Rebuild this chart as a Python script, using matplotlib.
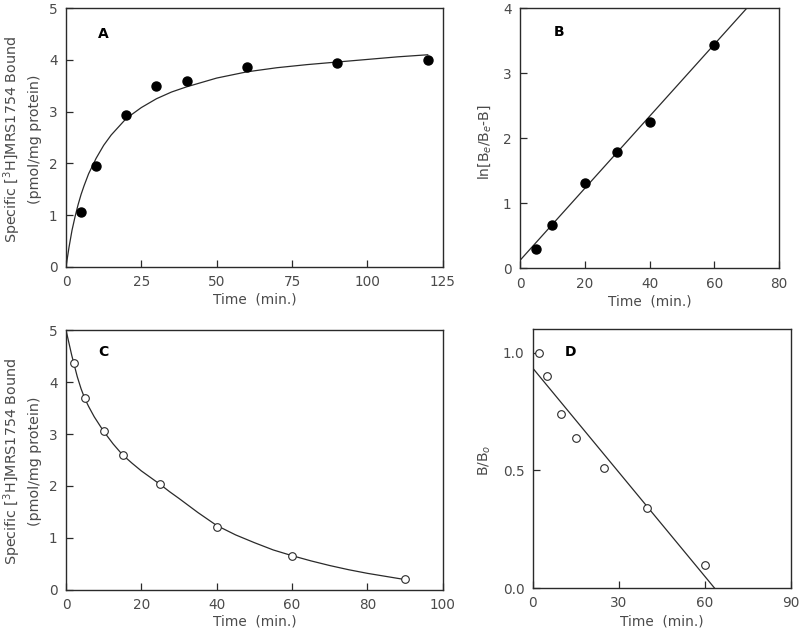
import numpy as np
import matplotlib
matplotlib.use("Agg")
import matplotlib.pyplot as plt

# panel A: association, specific binding
a_time = [5, 10, 20, 30, 40, 60, 90, 120]
a_bound = [1.07, 1.95, 2.94, 3.50, 3.60, 3.87, 3.95, 4.00]
a_fit_time = [0, 1, 2, 3, 4, 5, 6, 7.5, 10, 12.5, 15, 20, 25, 30, 35, 40,
              50, 60, 70, 80, 90, 100, 110, 120]
a_fit_bound = [0, 0.38, 0.71, 0.97, 1.20, 1.40, 1.57, 1.80, 2.10, 2.35, 2.55,
               2.87, 3.08, 3.25, 3.38, 3.48, 3.65, 3.77, 3.85, 3.91, 3.96,
               4.01, 4.06, 4.10]

# panel B: linearised association
b_time = [5, 10, 20, 30, 40, 60]
b_ln = [0.29, 0.66, 1.31, 1.78, 2.25, 3.44]
b_fit_time = [0, 70]
b_fit_ln = [0.12, 4.0]

# panel C: dissociation
c_time = [2, 5, 10, 15, 25, 40, 60, 90]
c_bound = [4.36, 3.69, 3.06, 2.60, 2.04, 1.22, 0.65, 0.21]
c_fit_time = [0, 0.5, 1, 1.5, 2, 3, 4, 5, 6, 7.5, 10, 12.5, 15, 17.5, 20,
              22.5, 25, 27.5, 30, 35, 40, 45, 50, 55, 60, 65, 70, 75, 80,
              85, 90]
c_fit_bound = [5.0, 4.84, 4.68, 4.52, 4.38, 4.10, 3.87, 3.68, 3.53, 3.33,
               3.05, 2.81, 2.60, 2.44, 2.29, 2.16, 2.03, 1.89, 1.76, 1.49,
               1.24, 1.06, 0.91, 0.77, 0.66, 0.56, 0.47, 0.39, 0.32, 0.26,
               0.20]

# panel D: B/Bo
d_time = [2, 5, 10, 15, 25, 40, 60]
d_ratio = [1.0, 0.90, 0.74, 0.64, 0.51, 0.34, 0.10]
d_fit_time = [0, 63.4]
d_fit_ratio = [0.935, 0.0]

ink = "#2a2a2a"
txt = "#4a4a4a"
plt.rcParams["font.family"] = "DejaVu Sans"
plt.rcParams["font.size"] = 9.5

fig = plt.figure(figsize=(8, 6.31), dpi=100)
axA = fig.add_axes([0.0825, 0.577, 0.471, 0.410])
axB = fig.add_axes([0.650, 0.575, 0.324, 0.412])
axC = fig.add_axes([0.0825, 0.065, 0.471, 0.412])
axD = fig.add_axes([0.666, 0.068, 0.3225, 0.410])

ylab_bound = "Specific [$^{3}$H]MRS1754 Bound\n(pmol/mg protein)"


def style(ax, letter, lx, ly, xl):
    for s in ax.spines.values():
        s.set_color(ink)
        s.set_linewidth(1.0)
    ax.tick_params(direction="in", length=5, width=0.9, color=ink,
                   labelcolor=txt, labelsize=9.8, pad=6)
    ax.text(lx, ly, letter, transform=ax.transAxes, fontsize=10,
            fontweight="bold", color="black", ha="center", va="center")
    ax.set_xlabel("Time  (min.)", color=txt, fontsize=9.8, va="center")
    ax.xaxis.set_label_coords(0.5, xl)


axA.plot(a_fit_time, a_fit_bound, color=ink, lw=0.9)
axA.plot(a_time, a_bound, "o", color="black", ms=6.5)
axA.set_xlim(0, 125)
axA.set_ylim(0, 5)
axA.set_xticks([0, 25, 50, 75, 100, 125])
axA.set_yticks([0, 1, 2, 3, 4, 5])
style(axA, "A", 0.10, 0.90, -0.127)
axA.set_ylabel(ylab_bound, color=txt, fontsize=10.3, va="center", linespacing=1.5)
axA.yaxis.set_label_coords(-0.117, 0.494)

axB.plot(b_fit_time, b_fit_ln, color=ink, lw=0.9)
axB.plot(b_time, b_ln, "o", color="black", ms=6.5)
axB.set_xlim(0, 80)
axB.set_ylim(0, 4)
axB.set_xticks([0, 20, 40, 60, 80])
axB.set_yticks([0, 1, 2, 3, 4])
style(axB, "B", 0.15, 0.91, -0.13)
axB.set_ylabel("ln[B$_e$/B$_e$-B]", color=txt, fontsize=10, va="center")
axB.yaxis.set_label_coords(-0.135, 0.485)

axC.plot(c_fit_time, c_fit_bound, color=ink, lw=0.9)
axC.plot(c_time, c_bound, "o", mfc="white", mec=ink, mew=0.8, ms=5.5)
axC.set_xlim(0, 100)
axC.set_ylim(0, 5)
axC.set_xticks([0, 20, 40, 60, 80, 100])
axC.set_yticks([0, 1, 2, 3, 4, 5])
style(axC, "C", 0.10, 0.915, -0.123)
axC.set_ylabel(ylab_bound, color=txt, fontsize=10.3, va="center", linespacing=1.5)
axC.yaxis.set_label_coords(-0.117, 0.496)

axD.plot(d_fit_time, d_fit_ratio, color=ink, lw=0.9)
axD.plot(d_time, d_ratio, "o", mfc="white", mec=ink, mew=0.8, ms=5.5,
         clip_on=False)
axD.set_xlim(0, 90)
axD.set_ylim(0, 1.1)
axD.set_xticks([0, 30, 60, 90])
axD.set_yticks([0.0, 0.5, 1.0])
axD.set_yticklabels(["0.0", "0.5", "1.0"])
style(axD, "D", 0.146, 0.912, -0.131)
axD.set_ylabel("B/B$_o$", color=txt, fontsize=10, va="center")
axD.yaxis.set_label_coords(-0.186, 0.494)

fig.savefig("out.png", dpi=100)
